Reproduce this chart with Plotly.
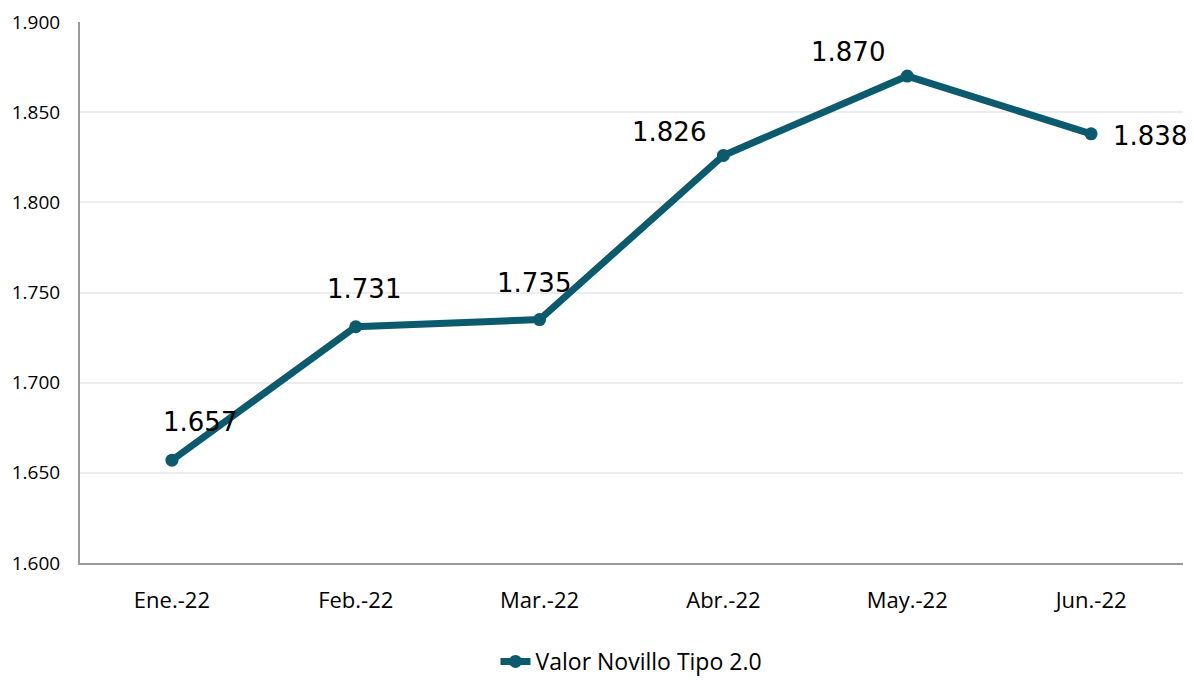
import plotly.graph_objects as go

categories = ["Ene.-22", "Feb.-22", "Mar.-22", "Abr.-22", "May.-22", "Jun.-22"]
values = [1.657, 1.731, 1.735, 1.826, 1.870, 1.838]
series_name = "Valor Novillo Tipo 2.0"
label_xshift = [28, 8, -6, -54, -59, 59]
label_yshift = [38, 38, 37, 23, 24, -2]

color = "#0b5a6e"

fig = go.Figure()
fig.add_trace(go.Scatter(
    x=categories, y=values, mode="lines+markers", name=series_name,
    line=dict(color=color, width=7),
    marker=dict(color=color, size=13),
    cliponaxis=False,
))

for c, v, dx, dy in zip(categories, values, label_xshift, label_yshift):
    fig.add_annotation(x=c, y=v, text=f"{v:.3f}", showarrow=False,
                       xshift=dx, yshift=dy,
                       font=dict(family="DejaVu Sans", size=26, color="#000000"))

fig.update_layout(
    width=1186, height=672,
    margin=dict(l=72, r=11, t=14, b=117, autoexpand=False),
    plot_bgcolor="white", paper_bgcolor="white",
    font=dict(family="Open Sans", size=18, color="#000000"),
    showlegend=True,
    legend=dict(orientation="h", x=0.5, xanchor="center", y=-0.182, yanchor="middle",
                font=dict(family="Open Sans", size=23, color="#000000")),
)
fig.update_xaxes(
    type="category", range=[-0.5, 5.5], automargin=False,
    showline=True, linecolor="#9a9a9a", linewidth=2,
    showgrid=False, ticks="", ticklabelstandoff=17,
    tickfont=dict(family="Open Sans", size=22),
)
fig.update_yaxes(
    range=[1.6, 1.9], dtick=0.05, tick0=1.6, tickformat=".3f", automargin=False,
    showline=True, linecolor="#9a9a9a", linewidth=2,
    showgrid=True, gridcolor="#ececec", gridwidth=1.5,
    zeroline=False, ticks="", ticklabelstandoff=14,
    tickfont=dict(family="Open Sans", size=19),
)

fig.write_html("out.html")
